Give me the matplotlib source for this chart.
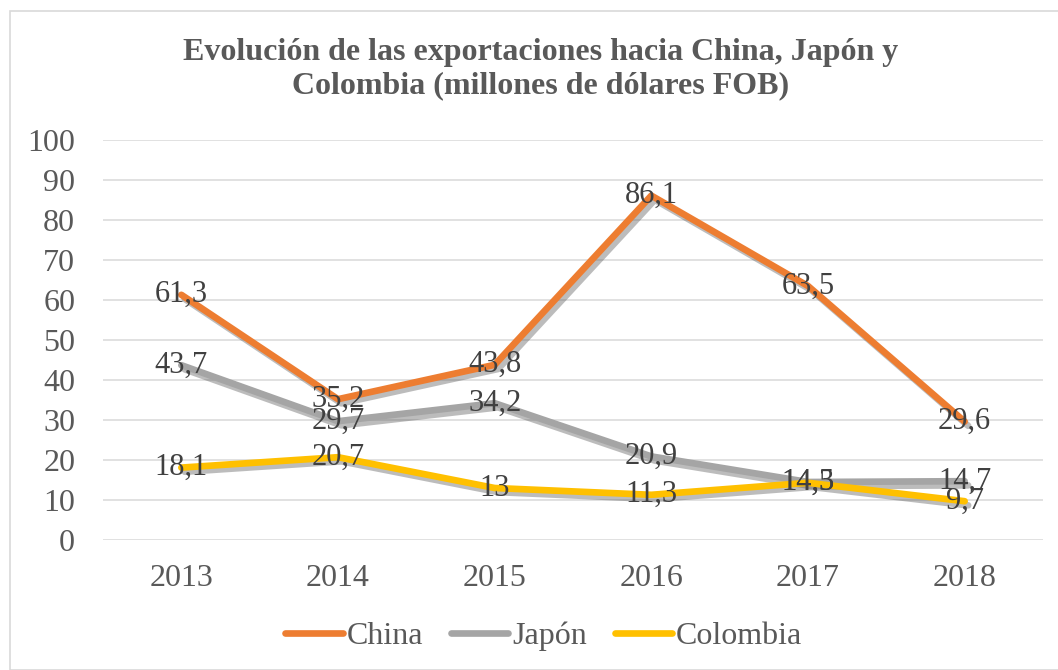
"""Evolución de las exportaciones hacia China, Japón y Colombia."""

import matplotlib
matplotlib.use("Agg")
import matplotlib.pyplot as plt
import matplotlib.patheffects as pe
from matplotlib.patches import Rectangle

years = ["2013", "2014", "2015", "2016", "2017", "2018"]
china = [61.3, 35.2, 43.8, 86.1, 63.5, 29.6]
japon = [43.7, 29.7, 34.2, 20.9, 14.5, 14.7]
colombia = [18.1, 20.7, 13.0, 11.3, 14.3, 9.7]

series = [
    ("China", china, "#ED7D31"),
    ("Japón", japon, "#A5A5A5"),
    ("Colombia", colombia, "#FFC000"),
]

plt.rcParams["font.family"] = ["Liberation Serif", "DejaVu Serif"]

fig = plt.figure(figsize=(10.58, 6.70), dpi=100)
fig.patches.append(Rectangle((10 / 1058, 0), 1.2, 1 - 11 / 670, transform=fig.transFigure,
                             fill=False, edgecolor="#d9d9d9", linewidth=1.2))

ax = fig.add_axes([103 / 1058, 1 - 540 / 670, 940 / 1058, 400 / 670])
x = list(range(len(years)))

shadow = [pe.SimpleLineShadow(offset=(2.5, -3), shadow_color="#595959", alpha=0.4), pe.Normal()]
for name, vals, color in series:
    ax.plot(x, vals, color=color, linewidth=4.8, solid_capstyle="round",
            solid_joinstyle="round", label=name, path_effects=shadow, zorder=3)

# etiquetas de datos centradas sobre cada punto (se solapan como en el original)
for name, vals, color in series:
    for xi, v in zip(x, vals):
        txt = f"{v:g}".replace(".", ",")
        ax.text(xi, v, txt, ha="center", va="center", fontsize=22, color="#404040", zorder=5)

ax.set_xlim(-0.5, len(years) - 0.5)
ax.set_ylim(0, 100)
ax.set_yticks(range(0, 101, 10))
ax.set_xticks(x)
ax.set_xticklabels(years)
ax.grid(axis="y", color="#d9d9d9", linewidth=1.1)
ax.set_axisbelow(True)
for s in ax.spines.values():
    s.set_visible(False)
ax.tick_params(axis="both", length=0, labelsize=23, labelcolor="#595959")
ax.tick_params(axis="y", pad=20)
ax.tick_params(axis="x", pad=17)

fig.text(0.511, 1 - 69 / 670,
         "Evolución de las exportaciones hacia China, Japón y\nColombia (millones de dólares FOB)",
         ha="center", va="center", fontsize=23, fontweight="bold", color="#595959",
         linespacing=1.2)

leg = fig.legend(loc="center", bbox_to_anchor=(0.514, 1 - 636 / 670), ncol=3, frameon=False,
                 fontsize=23, handlelength=1.8, handletextpad=0.12, columnspacing=0.87,
                 borderpad=0)
for t in leg.get_texts():
    t.set_color("#595959")
for h in leg.get_lines():
    h.set_path_effects([])

fig.savefig("out.png", dpi=100, facecolor="white")
